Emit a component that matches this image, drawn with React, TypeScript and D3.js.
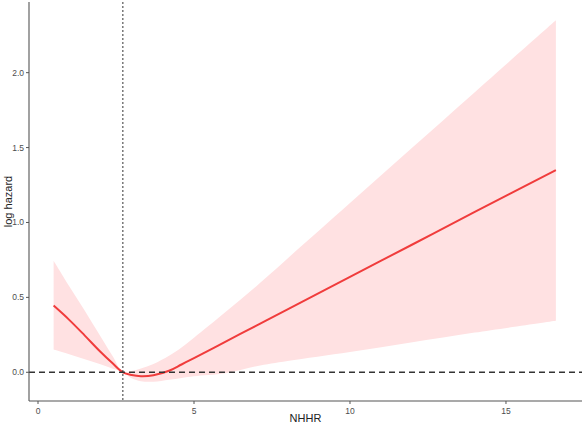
import React from "react";
import * as d3 from "d3";

const xValues = [0.5, 1.0, 1.5, 2.0, 2.4, 2.72, 3.0, 3.3, 3.7, 4.2, 4.6, 5.0, 6.0, 7.0, 8.0, 10.0, 12.0, 14.0, 16.6];
const fitValues = [0.445, 0.35, 0.245, 0.137, 0.058, 0.0, -0.018, -0.026, -0.02, 0.01, 0.052, 0.095, 0.203, 0.312, 0.42, 0.637, 0.853, 1.07, 1.35];
const upperValues = [0.745, 0.575, 0.41, 0.24, 0.105, 0.0, 0.008, 0.025, 0.055, 0.11, 0.165, 0.23, 0.4, 0.575, 0.76, 1.13, 1.5, 1.87, 2.35];
const lowerValues = [0.152, 0.12, 0.087, 0.053, 0.023, 0.0, -0.04, -0.06, -0.063, -0.05, -0.038, -0.027, -0.007, 0.04, 0.075, 0.135, 0.2, 0.265, 0.344];

const xTicks = [0, 5, 10, 15];
const yTicks = [0.0, 0.5, 1.0, 1.5, 2.0];
const refX = 2.72;
const xTitle = "NHHR";
const yTitle = "log hazard";

const W = 582;
const H = 427;

export default function App() {
  const x = d3.scaleLinear().domain([-0.305, 17.405]).range([28.5, 581]);
  const y = d3.scaleLinear().domain([-0.191, 2.471]).range([400.9, 2.1]);

  const rows = xValues.map((v, i) => ({ x: v, fit: fitValues[i], lo: lowerValues[i], hi: upperValues[i] }));

  const curve = d3.curveCatmullRom.alpha(0.5);
  const area = d3
    .area<any>()
    .x((d) => x(d.x))
    .y0((d) => y(d.lo))
    .y1((d) => y(d.hi))
    .curve(curve);
  const line = d3
    .line<any>()
    .x((d) => x(d.x))
    .y((d) => y(d.fit))
    .curve(curve);

  const left = 29;
  const bottom = 401;
  const font = "Arial, 'Liberation Sans', sans-serif";

  return (
    <svg
      width={W}
      height={H}
      style={{ position: "absolute", left: 0, top: 0, background: "#fff" }}
      fontFamily={font}
    >
      <rect x={0} y={0} width={W} height={H} fill="#fff" />
      <path d={area(rows) || ""} fill="#FFE1E2" stroke="none" />
      <path d={line(rows) || ""} fill="none" stroke="#F03C3C" strokeWidth={2} />
      <line
        x1={left}
        x2={W}
        y1={y(0)}
        y2={y(0)}
        stroke="#333"
        strokeWidth={1.5}
        strokeDasharray="6,4"
      />
      <line
        x1={x(refX)}
        x2={x(refX)}
        y1={2}
        y2={bottom}
        stroke="#333"
        strokeWidth={1}
        strokeDasharray="2,2"
      />
      <line x1={left} x2={left} y1={2} y2={bottom} stroke="#555" strokeWidth={1.1} />
      <line x1={left} x2={W} y1={bottom} y2={bottom} stroke="#555" strokeWidth={1.1} />
      {yTicks.map((t) => (
        <g key={"y" + t}>
          <line x1={left - 3} x2={left} y1={y(t)} y2={y(t)} stroke="#555" strokeWidth={1} />
          <text
            x={left - 5}
            y={y(t)}
            dy="0.35em"
            textAnchor="end"
            fontSize={8.5}
            fill="#4d4d4d"
          >
            {t.toFixed(1)}
          </text>
        </g>
      ))}
      {xTicks.map((t) => (
        <g key={"x" + t}>
          <line x1={x(t)} x2={x(t)} y1={bottom} y2={bottom + 3} stroke="#555" strokeWidth={1} />
          <text x={x(t)} y={bottom + 13} textAnchor="middle" fontSize={8.5} fill="#4d4d4d">
            {t}
          </text>
        </g>
      ))}
      <text x={(left + W) / 2} y={422} textAnchor="middle" fontSize={11} fill="#222">
        {xTitle}
      </text>
      <text
        transform={`translate(12,${(2 + bottom) / 2}) rotate(-90)`}
        textAnchor="middle"
        fontSize={11}
        fill="#222"
      >
        {yTitle}
      </text>
    </svg>
  );
}
